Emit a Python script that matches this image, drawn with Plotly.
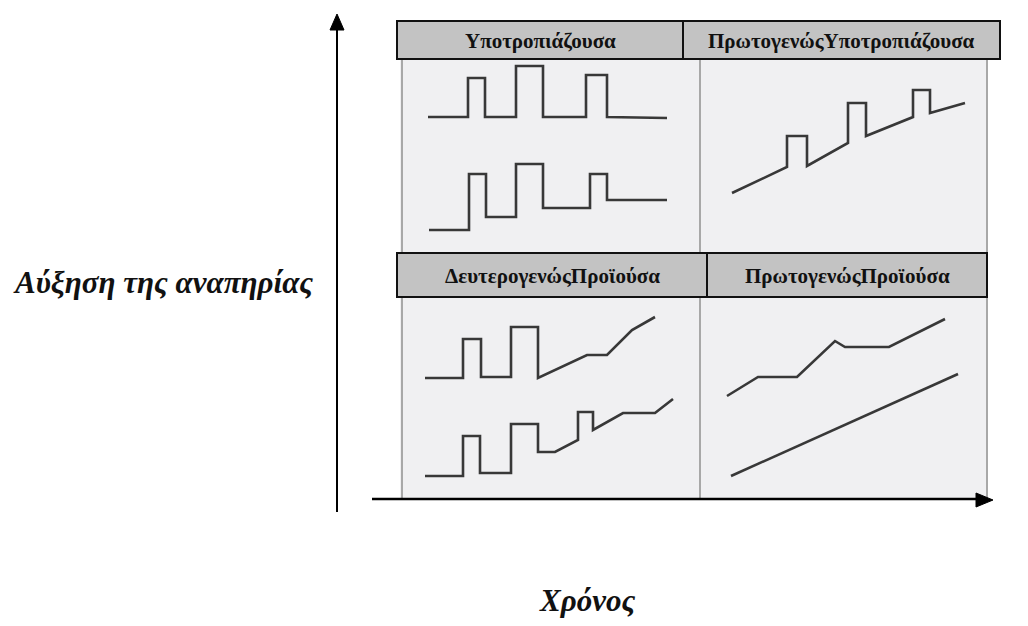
import plotly.graph_objects as go

# page body has an 8px margin; the figure is drawn inside it
OFF = 8
W, H = 1028 - 2 * OFF, 626 - 2 * OFF

# ---- data: course curves per panel (time in panel units, disability in panel units) ----
tl_top_t = [26, 66, 66, 83, 83, 114, 114, 141, 141, 184, 184, 205, 205, 265]
tl_top_d = [135, 135, 174, 174, 135, 135, 186, 186, 135, 135, 177, 177, 135, 134]
tl_bot_t = [27, 67, 67, 84, 84, 114, 114, 141, 141, 188, 188, 205, 205, 265]
tl_bot_d = [22, 22, 78, 78, 35, 35, 88, 88, 44, 44, 78, 78, 52, 52]

tr_t = [32, 87, 87, 107, 107, 148, 148, 166, 166, 213, 213, 230, 230, 265]
tr_d = [59, 85, 116, 116, 86, 109, 149, 149, 116, 135, 162, 162, 139, 149]

bl_top_t = [23, 61, 61, 79, 79, 109, 109, 136, 136, 185, 205, 230, 253]
bl_top_d = [120, 120, 159, 159, 121, 121, 171, 171, 120, 143, 143, 168, 181]
bl_bot_t = [23, 61, 61, 78, 78, 109, 109, 136, 136, 153, 176, 176, 191, 191, 221, 253, 271]
bl_bot_d = [22, 22, 62, 62, 25, 25, 74, 74, 46, 46, 58, 86, 86, 68, 85, 85, 99]

br_top_t = [25, 56, 95, 133, 143, 187, 243]
br_top_d = [102, 121, 121, 157, 151, 151, 179]
br_bot_t = [29, 256]
br_bot_d = [22, 124]

titles = ["Υποτροπιάζουσα", "ΠρωτογενώςΥποτροπιάζουσα",
          "ΔευτερογενώςΠροϊούσα", "ΠρωτογενώςΠροϊούσα"]
y_label = "Αύξηση της αναπηρίας"
x_label = "Χρόνος"

# ---- layout helpers (window pixel -> paper) ----
def fx(p):
    return (p - OFF) / W

def fy(p):
    return 1 - (p - OFF) / H

# panels: (left, top, right, bottom) in window pixels
panels = [(402, 59, 700, 252), (700, 59, 987, 252),
          (402, 297, 702, 498), (702, 297, 987, 498)]
series = [
    [(tl_top_t, tl_top_d), (tl_bot_t, tl_bot_d)],
    [(tr_t, tr_d)],
    [(bl_top_t, bl_top_d), (bl_bot_t, bl_bot_d)],
    [(br_top_t, br_top_d), (br_bot_t, br_bot_d)],
]

fig = go.Figure()
line_color = "#383838"
layout_axes = {}
for i, ((l, t, r, b), curves) in enumerate(zip(panels, series)):
    n = "" if i == 0 else str(i + 1)
    for tt, dd in curves:
        fig.add_trace(go.Scatter(x=tt, y=dd, mode="lines",
                                 line=dict(color=line_color, width=2.6),
                                 xaxis="x" + n, yaxis="y" + n,
                                 showlegend=False, hoverinfo="skip"))
    layout_axes["xaxis" + n] = dict(domain=[fx(l), fx(r)], range=[0, r - l],
                                    visible=False, fixedrange=True)
    layout_axes["yaxis" + n] = dict(domain=[fy(b), fy(t)], range=[0, b - t],
                                    visible=False, fixedrange=True)

shapes = []
# panel background
shapes.append(dict(type="rect", xref="paper", yref="paper",
                   x0=fx(400), x1=fx(988), y0=fy(498), y1=fy(56),
                   fillcolor="#f0f0f2", line=dict(width=0), layer="below"))
# panel borders (gray)
for xp in (402, 700, 987):
    shapes.append(dict(type="line", xref="paper", yref="paper",
                       x0=fx(xp), x1=fx(xp), y0=fy(498), y1=fy(58),
                       line=dict(color="#a8a8a8", width=2), layer="below"))

# header boxes
headers = [(397, 21, 683, 59), (683, 21, 1000, 59),
           (397, 253, 707, 297), (707, 253, 987, 297)]
annotations = []
serif = "Liberation Serif, Times New Roman, serif"
for (l, t, r, b), txt in zip(headers, titles):
    shapes.append(dict(type="rect", xref="paper", yref="paper",
                       x0=fx(l), x1=fx(r), y0=fy(b), y1=fy(t),
                       fillcolor="#c3c3c3", line=dict(color="#111111", width=2)))
    annotations.append(dict(text="<b>" + txt + "</b>", xref="paper", yref="paper",
                            x=fx((l + r) / 2), y=fy((t + b) / 2 + 1), showarrow=False,
                            xanchor="center", yanchor="middle",
                            font=dict(family=serif, size=21, color="#111111")))

# axes lines
shapes.append(dict(type="line", xref="paper", yref="paper",
                   x0=fx(337), x1=fx(337), y0=fy(512), y1=fy(26),
                   line=dict(color="#000000", width=2)))
shapes.append(dict(type="line", xref="paper", yref="paper",
                   x0=fx(372), x1=fx(980), y0=fy(499), y1=fy(499),
                   line=dict(color="#000000", width=2.5)))
# arrowheads
shapes.append(dict(type="path", xref="paper", yref="paper",
                   path=f"M {fx(337)} {fy(14)} L {fx(330)} {fy(30)} L {fx(344)} {fy(30)} Z",
                   fillcolor="#000000", line=dict(color="#000000", width=1)))
shapes.append(dict(type="path", xref="paper", yref="paper",
                   path=f"M {fx(993)} {fy(500)} L {fx(976)} {fy(493)} L {fx(976)} {fy(507)} Z",
                   fillcolor="#000000", line=dict(color="#000000", width=1)))

annotations.append(dict(text="<b><i>" + y_label + "</i></b>", xref="paper", yref="paper",
                        x=fx(163), y=fy(282), showarrow=False,
                        xanchor="center", yanchor="middle",
                        font=dict(family=serif, size=31, color="#111111")))
annotations.append(dict(text="<b><i>" + x_label + "</i></b>", xref="paper", yref="paper",
                        x=fx(587), y=fy(600), showarrow=False,
                        xanchor="center", yanchor="middle",
                        font=dict(family=serif, size=31, color="#111111")))

fig.update_layout(width=W, height=H, margin=dict(l=0, r=0, t=0, b=0),
                  paper_bgcolor="white", plot_bgcolor="rgba(0,0,0,0)",
                  shapes=shapes, annotations=annotations, **layout_axes)

fig.write_html("out.html")
